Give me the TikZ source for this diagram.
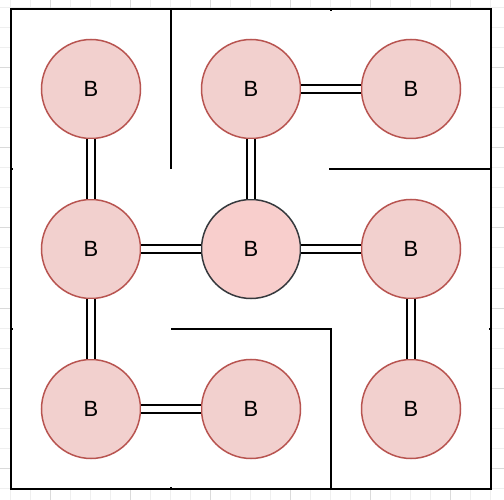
\documentclass[tikz,border=0pt]{standalone}
\usepackage{fontspec}
\setmainfont{Liberation Sans}
\definecolor{cellfill}{HTML}{F2D0CE}
\definecolor{cellline}{HTML}{B85450}
\definecolor{hubfill}{HTML}{F8CECC}
\definecolor{hubline}{HTML}{36393D}
\definecolor{gridminor}{HTML}{EFEFEF}
\definecolor{gridmajor}{HTML}{DADADA}
\begin{document}
\begin{tikzpicture}[x=1pt,y=-1pt,
  cell/.style={circle,draw=cellline,fill=cellfill,line width=1.5pt,minimum size=99pt,inner sep=0pt,
    font=\fontsize{22}{24}\selectfont},
  hub/.style={cell,draw=hubline,fill=hubfill},
  link/.style={draw=black,line width=2pt,double=white,double distance=5.6pt},
  wall/.style={draw=black,line width=2pt},
  tick/.style={draw=black,line width=2pt}]
\useasboundingbox (0,0) rectangle (504,500);
% background grid
\foreach \x in {10,30,...,490} \draw[gridminor,line width=1pt] (\x,0) -- (\x,500);
\foreach \y in {8,28,...,488} \draw[gridminor,line width=1pt] (0,\y) -- (504,\y);
\foreach \x in {50,130,...,450} \draw[gridmajor,line width=1pt] (\x,0) -- (\x,500);
\foreach \y in {68,148,...,468} \draw[gridmajor,line width=1pt] (0,\y) -- (504,\y);
% maze enclosure
\draw[wall,fill=white] (11,9) rectangle (491,489);
% inner walls
\draw[wall] (171,9) -- (171,169);
\draw[wall] (331,169) -- (491,169);
\draw[wall] (171,329) -- (331,329) -- (331,489);
% small stubs on the enclosure
\draw[tick] (11,169) -- (13,169);
\draw[tick] (11,329) -- (13,329);
\draw[tick] (489,329) -- (491,329);
\draw[tick] (331,9) -- (331,11);
\draw[tick] (171,487) -- (171,489);
\draw[tick] (329,169) -- (331,169);
\draw[tick] (171,329) -- (173,329);
% rooms
\node[cell] (a) at (91,89) {B};
\node[cell] (b) at (251,89) {B};
\node[cell] (c) at (411,89) {B};
\node[cell] (d) at (91,249) {B};
\node[hub]  (e) at (251,249) {B};
\node[cell] (f) at (411,249) {B};
\node[cell] (g) at (91,409) {B};
\node[cell] (h) at (251,409) {B};
\node[cell] (i) at (411,409) {B};
% passages
\draw[link] (a) -- (d);
\draw[link] (b) -- (c);
\draw[link] (b) -- (e);
\draw[link] (d) -- (e);
\draw[link] (e) -- (f);
\draw[link] (f) -- (i);
\draw[link] (d) -- (g);
\draw[link] (g) -- (h);
\end{tikzpicture}
\end{document}
